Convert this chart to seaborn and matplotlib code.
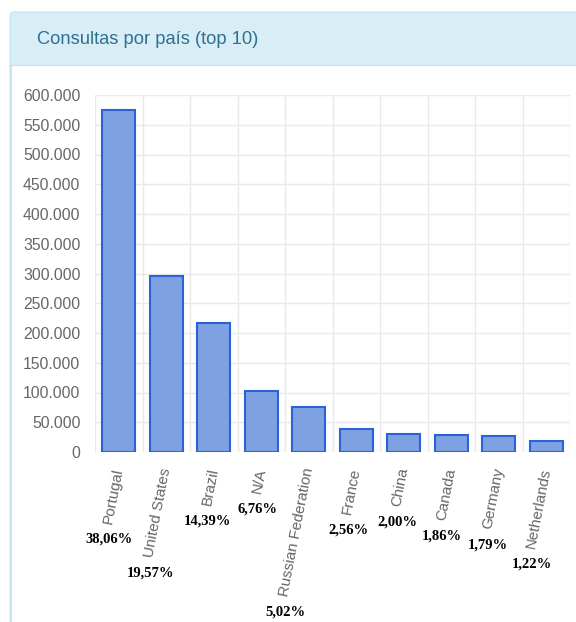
import numpy as np
import pandas as pd
import matplotlib
matplotlib.use("Agg")
import matplotlib.pyplot as plt
import seaborn as sns
from matplotlib.patches import FancyBboxPatch, Rectangle
from matplotlib.lines import Line2D
from matplotlib.transforms import IdentityTransform
from matplotlib.ticker import FuncFormatter, MultipleLocator

countries = ["Portugal", "United States", "Brazil", "N/A", "Russian Federation",
             "France", "China", "Canada", "Germany", "Netherlands"]
queries = [575000, 295700, 217400, 102100, 75900, 38700, 30200, 28100, 27000, 18400]
percent_labels = ["38,06%", "19,57%", "14,39%", "6,76%", "5,02%",
                  "2,56%", "2,00%", "1,86%", "1,79%", "1,22%"]
title = "Consultas por país (top 10)"

df = pd.DataFrame({"country": countries, "queries": queries})

sns.set_style("white")
plt.rcParams["font.family"] = ["Liberation Sans", "DejaVu Sans"]

W, H = 576, 622
fig = plt.figure(figsize=(W / 100, H / 100), dpi=100)
fig.patch.set_facecolor("white")

# card / panel
px = IdentityTransform()
card = FancyBboxPatch((10, -20), 620, 630, boxstyle="round,pad=0,rounding_size=4",
                      transform=px, fc="#d9edf7", ec="#bce8f1", lw=0.8, zorder=0)
fig.patches.append(card)
body = Rectangle((11, -20), 620, H - 65 + 20, transform=px, fc="white", ec="none", zorder=0.1)
fig.patches.append(body)
fig.lines.append(Line2D([10, 640], [H - 65, H - 65], transform=px, color="#bce8f1", lw=0.8, zorder=0.2))
fig.lines.append(Line2D([10.5, 10.5], [-20, H - 65], transform=px, color="#bce8f1", lw=0.8, zorder=0.2))
fig.text(37 / W, 1 - 40 / H, title, ha="left", va="center", fontsize=13.2, color="#31708f")

ax = fig.add_axes([95 / W, 1 - 452 / H, (570 - 95) / W, (452 - 95) / H])
ax.set_zorder(5)
ax.set_facecolor("none")

sns.barplot(data=df, x="country", y="queries", ax=ax, color="#7ea1e2", saturation=1,
            edgecolor="#2b62d9", linewidth=1.5, width=0.7, zorder=3)

grid_c = "#e9e9e9"
ax.set_xlim(-0.5, 9.5)
ax.set_ylim(0, 600000)
ax.yaxis.set_major_locator(MultipleLocator(50000))
ax.yaxis.set_major_formatter(FuncFormatter(lambda v, p: f"{int(v):,}".replace(",", ".")))
ax.set_xticks(np.arange(-0.5, 10, 1), minor=True)
ax.set_xticks(range(len(countries)))
ax.set_xticklabels(countries, rotation=79, ha="right", va="center", rotation_mode="anchor")
ax.tick_params(axis="x", which="major", length=0, pad=11.5, labelsize=10.9, labelcolor="#666666")
ax.tick_params(axis="x", which="minor", length=6, color=grid_c, width=1)
ax.tick_params(axis="y", which="major", length=6, color=grid_c, width=1, pad=4.5,
               labelsize=11.3, labelcolor="#666666")
ax.grid(True, axis="y", which="major", color=grid_c, lw=1, zorder=0)
ax.grid(True, axis="x", which="minor", color=grid_c, lw=1, zorder=0)
ax.grid(False, axis="x", which="major")
ax.set_axisbelow(True)
for s in ax.spines.values():
    s.set_visible(False)
ax.set_xlabel("")
ax.set_ylabel("")

fig.canvas.draw()
for lab, pct in zip(ax.get_xticklabels(), percent_labels):
    ax.annotate(pct, xy=(0, 0), xycoords=lab, xytext=(8, -8), textcoords="offset pixels",
                ha="center", va="top", fontsize=10.5, fontweight="bold",
                family=["Liberation Serif", "DejaVu Serif"], color="black",
                annotation_clip=False)

fig.savefig("out.png", dpi=100)
